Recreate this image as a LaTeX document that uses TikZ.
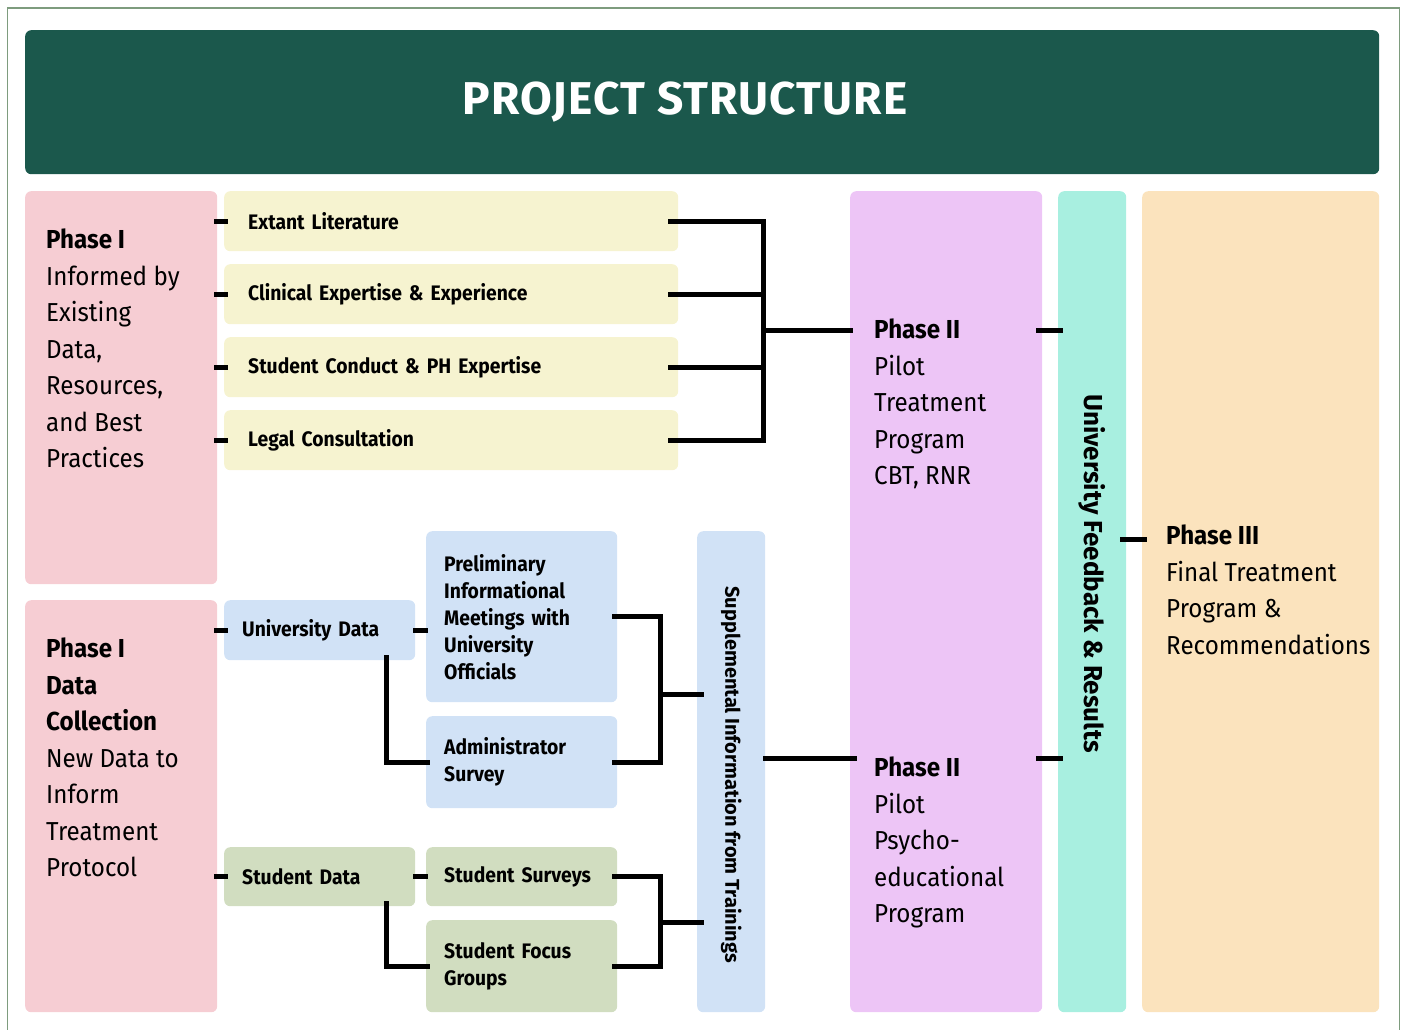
\documentclass[tikz,border=0pt]{standalone}
\usepackage{fontspec}
\setmainfont{Fira Sans}
\newfontfamily\narrowfont[FakeStretch=0.92]{Fira Sans}
\newfontfamily\bodyfont[FakeStretch=0.93]{Fira Sans}
\newfontfamily\titlefont[LetterSpace=2.5]{Fira Sans}
\usetikzlibrary{calc}
\definecolor{headc}{HTML}{1B584C}
\definecolor{framec}{HTML}{7E9C7E}
\definecolor{pinkc}{HTML}{F6CDD3}
\definecolor{yellowc}{HTML}{F6F3D0}
\definecolor{bluec}{HTML}{D1E2F6}
\definecolor{greenc}{HTML}{D1DDC0}
\definecolor{purplec}{HTML}{EDC5F6}
\definecolor{tealc}{HTML}{A8EFE0}
\definecolor{orangec}{HTML}{FBE3BD}
\tikzset{block/.style = {fill=#1, rounded corners=6pt, anchor=north west, inner sep=0pt},
         wire/.style = {line width=5pt},
         body/.style = {font=\bodyfont\fontsize{26}{36.5}\selectfont, align=left, anchor=north west, inner sep=0pt},
         label/.style = {font=\narrowfont\bfseries\fontsize{21}{27}\selectfont, align=left}}

\begin{document}
\begin{tikzpicture}[x=1pt, y=-1pt]
\useasboundingbox (0,0) rectangle (1405,1029);
\draw[framec, line width=1.5pt] (7.5,8) rectangle (1399.5,1040);
\node[block=headc, minimum width=1354pt, minimum height=144pt] (head) at (25,30) {};
\node[text=white, font=\titlefont\bfseries\fontsize{46}{50}\selectfont] (title) at ([xshift=-17pt]head.center) {PROJECT STRUCTURE};

% phase columns
\node[block=pinkc, minimum width=192pt, minimum height=393pt] (ph1) at (25,191) {};
\node[block=pinkc, minimum width=192pt, minimum height=412pt] (ph1b) at (25,600) {};
\node[block=purplec, minimum width=192pt, minimum height=821pt] (p2) at (850,191) {};
\node[block=tealc, minimum width=68pt, minimum height=821pt] (uf) at (1058,191) {};
\node[block=orangec, minimum width=237pt, minimum height=821pt] (p3) at (1142,191) {};
\node[block=bluec, minimum width=68pt, minimum height=481pt] (sup) at (697,531) {};

\node[body] (ph1txt) at ([shift={(21,38)}]ph1.north west)
  {\textbf{Phase I}\\Informed by\\Existing\\Data,\\Resources,\\and Best\\Practices};
\node[body] (ph1btxt) at ([shift={(21,38)}]ph1b.north west)
  {\textbf{Phase I}\\\textbf{Data}\\\textbf{Collection}\\New Data to\\Inform\\Treatment\\Protocol};
\coordinate (p2a) at (850,330);
\coordinate (p2b) at (850,758);
\coordinate (p3a) at (1142,539);
\node[body] (p2atxt) at ([shift={(24,-11)}]p2a) {\textbf{Phase II}\\Pilot\\Treatment\\Program\\CBT, RNR};
\node[body] (p2btxt) at ([shift={(24,-1)}]p2b) {\textbf{Phase II}\\Pilot\\Psycho-\\educational\\Program};
\node[body] (p3txt) at ([shift={(24,-14)}]p3a) {\textbf{Phase III}\\Final Treatment\\Program \&\\Recommendations};
\node[rotate=-90, font=\bfseries\fontsize{26}{30}\selectfont] (uftxt) at ([yshift=28pt]uf.center) {University Feedback \& Results};
\node[rotate=-90, font=\bfseries\fontsize{20}{24}\selectfont] (suptxt) at ([yshift=-3pt]sup.center) {Supplemental Information from Trainings};

% existing sources
\foreach \n/\y/\t in {lit/191/Extant Literature, clin/264/Clinical Expertise \& Experience,
                      cond/337/Student Conduct \& PH Expertise, legal/410/Legal Consultation}
  \node[block=yellowc, label, minimum width=454pt, minimum height=60pt, text width=406pt,
        inner xsep=24pt] (\n) at (224,\y) {\t};

% new data
\node[block=bluec, label, minimum width=191pt, minimum height=60pt, text width=155pt, inner xsep=18pt] (ud) at (224,600) {University Data};
\node[block=bluec, label, minimum width=191pt, minimum height=171pt, text width=155pt, inner xsep=18pt] (pm) at (426,531)
  {Preliminary\\Informational\\Meetings with\\University\\Officials};
\node[block=bluec, label, minimum width=191pt, minimum height=92pt, text width=155pt, inner xsep=18pt] (adm) at (426,716) {Administrator\\Survey};
\node[block=greenc, label, minimum width=191pt, minimum height=59pt, text width=155pt, inner xsep=18pt] (sd) at (224,847) {Student Data};
\node[block=greenc, label, minimum width=191pt, minimum height=59pt, text width=155pt, inner xsep=18pt] (ss) at (426,847) {Student Surveys};
\node[block=greenc, label, minimum width=191pt, minimum height=92pt, text width=155pt, inner xsep=18pt] (fg) at (426,920) {Student Focus\\Groups};

% connectors
\coordinate (j1) at (763,330);
\coordinate (j2) at (660,694);
\coordinate (j3) at (660,922);
\foreach \n in {lit,clin,cond,legal} {
  \draw[wire] ([xshift=-10pt]\n.west) -- ([xshift=4pt]\n.west);
  \draw[wire] ([xshift=-10pt]\n.east) -| (j1);
}
\draw[wire] (j1) -- ([xshift=3pt]j1 -| p2.west);
\foreach \a/\b/\c/\j in {ud/pm/adm/j2, sd/ss/fg/j3} {
  \draw[wire] ([xshift=-10pt]\a.west) -- ([xshift=4pt]\a.west);
  \draw[wire] ([xshift=-2pt]\a.east) -- ([xshift=2pt]\a.east -| \b.west);
  \draw[wire] ([xshift=-29pt,yshift=5pt]\a.south east) |- ([xshift=4pt]\c.west);
  \draw[wire] ([xshift=-5pt]\b.east) -| (\j);
  \draw[wire] ([xshift=-5pt]\c.east) -| (\j);
  \draw[wire] (\j) -- ([xshift=7pt]\j -| sup.west);
}
\draw[wire] ([xshift=-2pt]p2b -| sup.east) -- ([xshift=7pt]p2b);
\draw[wire] ([xshift=-6pt]p2a -| p2.east) -- ([xshift=5pt]p2a -| uf.west);
\draw[wire] ([xshift=-6pt]p2b -| p2.east) -- ([xshift=5pt]p2b -| uf.west);
\draw[wire] ([xshift=-6pt]p3a -| uf.east) -- ([xshift=5pt]p3a);
\end{tikzpicture}
\end{document}
